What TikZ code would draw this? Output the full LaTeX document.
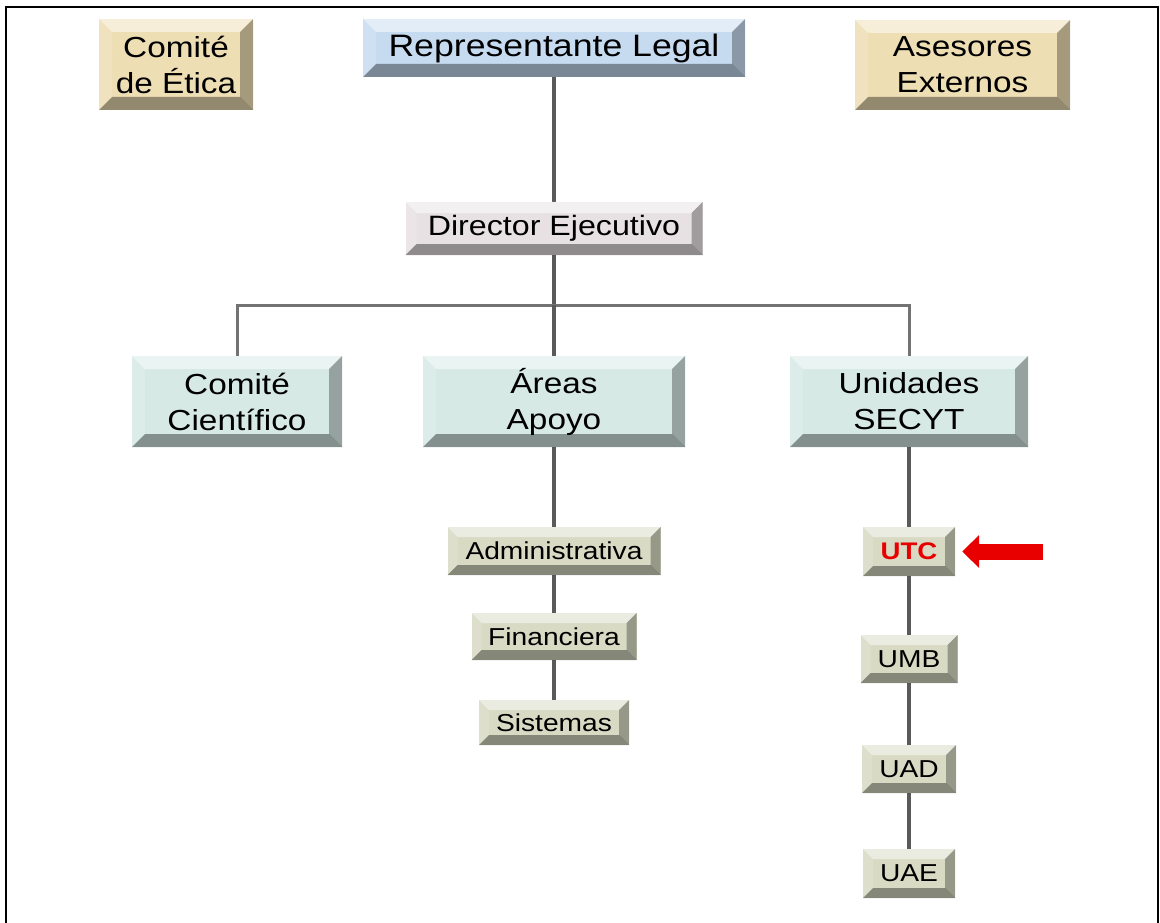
\documentclass[tikz,border=0pt]{standalone}
\usepackage{fontspec}
\setmainfont{Liberation Sans}[FakeStretch=1.15]
\usetikzlibrary{arrows.meta,backgrounds}
\definecolor{tanc}{RGB}{238,222,180}
\definecolor{bluec}{RGB}{198,219,240}
\definecolor{dirc}{RGB}{232,225,228}
\definecolor{tealc}{RGB}{214,233,229}
\definecolor{olivec}{RGB}{216,218,196}
\definecolor{linec}{RGB}{90,90,90}
\definecolor{arrowred}{RGB}{232,0,0}
\tikzset{
  bevel/.style={path picture={
    \fill[white,opacity=.5] (path picture bounding box.north west) -- (path picture bounding box.north east) -- ([xshift=-#1,yshift=-#1]path picture bounding box.north east) -- ([xshift=#1,yshift=-#1]path picture bounding box.north west) -- cycle;
    \fill[white,opacity=.15] (path picture bounding box.north west) -- ([xshift=#1,yshift=-#1]path picture bounding box.north west) -- ([xshift=#1,yshift=#1]path picture bounding box.south west) -- (path picture bounding box.south west) -- cycle;
    \fill[black,opacity=.3] (path picture bounding box.north east) -- ([xshift=-#1,yshift=-#1]path picture bounding box.north east) -- ([xshift=-#1,yshift=#1]path picture bounding box.south east) -- (path picture bounding box.south east) -- cycle;
    \fill[black,opacity=.38] (path picture bounding box.south west) -- ([xshift=#1,yshift=#1]path picture bounding box.south west) -- ([xshift=-#1,yshift=#1]path picture bounding box.south east) -- (path picture bounding box.south east) -- cycle;
  }},
  bigbox/.style={draw=none, inner sep=0pt, align=center, bevel=13pt,
    font=\fontsize{29}{36}\selectfont},
  smallbox/.style={draw=none, fill=olivec, inner sep=0pt, align=center, bevel=10pt,
    font=\fontsize{24.5}{30}\selectfont},
  conn/.style={draw=linec, line width=3.5pt},
  barline/.style={draw=linec!85, line width=3pt},
}
\begin{document}
\begin{tikzpicture}[x=1pt,y=-1pt]
\useasboundingbox (0,0) rectangle (1160,923);
\draw[line width=2.5pt] (6,935) -- (6,7) -- (1158,7) -- (1158,935);

% top level
\node[bigbox, fill=tanc, minimum width=154pt, minimum height=91pt] (etica) at (176,64.5) {Comité\\de Ética};
\node[bigbox, fill=bluec, minimum width=382pt, minimum height=58pt, font=\fontsize{31}{36}\selectfont] (rep) at (554,48) {Representante Legal};
\node[bigbox, fill=tanc, minimum width=215pt, minimum height=90pt] (ases) at (962.5,65) {Asesores\\Externos};
\node[bigbox, fill=dirc, minimum width=297pt, minimum height=53pt, bevel=11pt, font=\fontsize{28}{36}\selectfont] (dir) at (554,228.5) {Director Ejecutivo};

% second level
\node[bigbox, fill=tealc, minimum width=210pt, minimum height=91pt] (cc) at (237,401.5) {Comité\\Científico};
\node[bigbox, fill=tealc, minimum width=262pt, minimum height=91pt] (areas) at (554,401.5) {Áreas\\Apoyo};
\node[bigbox, fill=tealc, minimum width=238pt, minimum height=91pt] (unid) at (909,401.5) {Unidades\\SECYT};

% support areas
\node[smallbox, minimum width=213pt, minimum height=48pt] (adm) at (554,551) {Administrativa};
\node[smallbox, minimum width=165pt, minimum height=47pt] (fin) at (554,636.5) {Financiera};
\node[smallbox, minimum width=150pt, minimum height=45pt] (sis) at (554,722.5) {Sistemas};

% SECYT units
\node[smallbox, minimum width=92pt, minimum height=49pt, text=arrowred, font=\fontsize{24}{30}\selectfont\bfseries] (utc) at (909,551.5) {UTC};
\node[smallbox, minimum width=97pt, minimum height=48pt] (umb) at (909,659) {UMB};
\node[smallbox, minimum width=94pt, minimum height=48pt] (uad) at (909,769) {UAD};
\node[smallbox, minimum width=92pt, minimum height=49pt] (uae) at (909,873.5) {UAE};

% connectors
\coordinate (bar) at (554,305);
\coordinate (arrowtail) at (1043,551.5);
\begin{scope}[on background layer]
  \draw[conn] (rep) -- (dir);
  \draw[conn] (dir) -- (bar);
  \draw[barline] (cc) |- (bar) -| (unid);
  \draw[conn] (bar) -- (areas);
  \draw[conn] (areas) -- (adm);
  \draw[conn] (adm) -- (fin);
  \draw[conn] (fin) -- (sis);
  \draw[conn] (unid) -- (utc);
  \draw[conn] (utc) -- (umb);
  \draw[conn] (umb) -- (uad);
  \draw[conn] (uad) -- (uae);
\end{scope}

% red arrow
\draw[arrowred, line width=16pt, -{Triangle[length=17pt,width=32pt]}] (arrowtail) -- ([xshift=7pt]utc.east);
\end{tikzpicture}
\end{document}
